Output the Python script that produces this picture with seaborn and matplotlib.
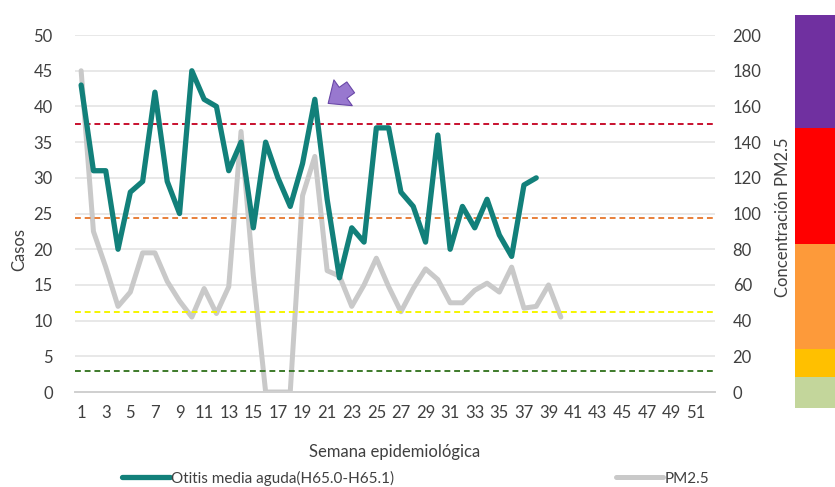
import matplotlib
matplotlib.use("Agg")
import matplotlib.pyplot as plt
import pandas as pd
import seaborn as sns

# Casos semanales de otitis media aguda (semanas 1-38)
semanas_otitis = list(range(1, 39))
casos_otitis = [43, 31, 31, 20, 28, 29.5, 42, 29.5, 25, 45, 41, 40, 31, 35, 23, 35,
                30, 26, 32, 41, 27, 16, 23, 21, 37, 37, 28, 26, 21, 36, 20, 26,
                23, 27, 22, 19, 29, 30]

# Concentracion semanal de PM2.5 (semanas 1-40)
semanas_pm = list(range(1, 41))
pm25 = [180, 90, 70, 48, 56, 78, 78, 62, 51, 42, 58, 44, 59, 146, 65, 0,
        0, 0, 110, 132, 68, 65, 48, 60, 75, 59, 45, 58, 69, 63, 50, 50,
        57, 61, 56, 70, 47, 48, 60, 42]

# Limites del indice de calidad del aire para PM2.5
limites_pm = [150.4, 97.4, 45, 12]
colores_limites = ["#c8102e", "#e8803a", "#f5f500", "#3d7a2a"]

# Escala lateral de colores (de abajo hacia arriba)
escala_colores = ["#c3d69b", "#ffc000", "#fd9a3a", "#ff0000", "#7030a0"]
escala_tramos = [31, 28, 105, 116, 113]

ticks_x = list(range(1, 52, 2))

sns.set_theme(style="white")
plt.rcParams["font.family"] = ["Lato", "DejaVu Sans"]

df_otitis = pd.DataFrame({"semana": semanas_otitis, "casos": casos_otitis})
df_pm = pd.DataFrame({"semana": semanas_pm, "pm25": pm25})

fig = plt.figure(figsize=(8.35, 4.87), dpi=100)
ax = fig.add_axes([0.0898, 0.195, 0.766, 0.733])
ax2 = ax.twinx()
ax.set_zorder(ax2.get_zorder() + 1)
ax.patch.set_visible(False)

# Serie PM2.5 en eje secundario
sns.lineplot(data=df_pm, x="semana", y="pm25", ax=ax2, color="#c9c9c9",
             linewidth=3.6, label="PM2.5", legend=False)
for lim, col in zip(limites_pm, colores_limites):
    ax2.axhline(lim, color=col, linestyle=(0, (3, 2)), linewidth=1.4, zorder=3)

# Serie de otitis en eje principal
sns.lineplot(data=df_otitis, x="semana", y="casos", ax=ax, color="#12807a",
             linewidth=3.8, label="Otitis media aguda(H65.0-H65.1)", legend=False)

ax.set_xlim(0.5, 52.5)
ax.set_ylim(0, 50)
ax2.set_ylim(0, 200)
ax.set_yticks(range(0, 51, 5))
ax2.set_yticks(range(0, 201, 20))
ax.set_xticks(ticks_x)
ax.set_xticklabels([str(t) for t in ticks_x])

ax.grid(False)
ax2.grid(axis="y", color="#e4e4e4", linewidth=1.2)
ax2.set_axisbelow(True)

for a in (ax, ax2):
    for side in ("top", "left", "right"):
        a.spines[side].set_visible(False)
    a.spines["bottom"].set_color("#d0d0d0")
    a.tick_params(length=0, labelsize=12, colors="#404040")
ax.tick_params(axis="y", pad=16)
ax2.tick_params(axis="y", pad=13)
ax.tick_params(axis="x", pad=9)

ax.set_xlabel("Semana epidemiológica", fontsize=12, color="#404040", labelpad=17)
ax.set_ylabel("Casos", fontsize=12, color="#404040")
ax.yaxis.set_label_coords(-0.075, 0.40)
ax2.set_ylabel("Concentración PM2.5", fontsize=12, color="#404040")
ax2.yaxis.set_label_coords(1.095, 0.49)

# Flecha que senala el pico de la semana 20
ax.annotate("", xy=(20.9, 40.2), xytext=(23.1, 42.9),
            arrowprops=dict(arrowstyle="simple,head_width=1.9,head_length=1.1,tail_width=0.8",
                            fc="#9878cf", ec="#6a48a8", lw=0.8))

# Leyenda inferior
h1, l1 = ax.get_legend_handles_labels()
h2, l2 = ax2.get_legend_handles_labels()
fig.legend(h1 + h2, l1 + l2, loc="center", bbox_to_anchor=(416 / 835, 1 - 478 / 487),
           ncol=2, frameon=False, columnspacing=14.5, handlelength=3.1,
           handletextpad=0.1, fontsize=11, labelcolor="#404040")

# Escala de colores lateral
ax3 = fig.add_axes([795 / 835, 1 - 408 / 487, 40 / 835, 393 / 487])
base = 0
for tramo, col in zip(escala_tramos, escala_colores):
    ax3.bar(0, tramo, bottom=base, color=col, width=1.0, linewidth=0)
    base += tramo
ax3.set_xlim(-0.5, 0.5)
ax3.set_ylim(0, base)
ax3.axis("off")

fig.savefig("out.png", dpi=100)
